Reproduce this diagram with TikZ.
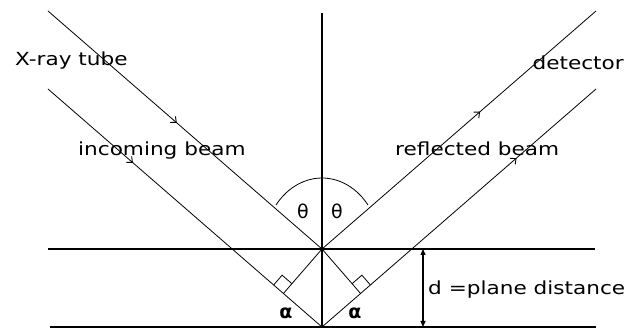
\documentclass[tikz,border=0pt]{standalone}
\usepackage{fontspec}
\newfontfamily\lab[FakeStretch=1.2]{DejaVu Sans}
\newfontfamily\symf{DejaVu Sans}
\usetikzlibrary{arrows.meta,decorations.markings,calc}
\begin{document}
\begin{tikzpicture}[x=1pt,y=1pt,
  beam/.style={line width=0.8pt},
  plane/.style={line width=1.6pt},
  beamarrow/.style={postaction={decorate},
    decoration={markings, mark=at position #1 with {\arrow{Straight Barb[length=4.5pt,width=8pt,line width=0.9pt]}}}},
  lbl/.style={font=\lab\fontsize{18}{20}\selectfont, inner sep=0pt, anchor=base west},
  thetalbl/.style={font=\symf\fontsize{19}{20}\selectfont, inner sep=0pt},
  alphalbl/.style={font=\symf\bfseries\fontsize{19}{20}\selectfont, inner sep=0pt},
  rmark/.style={line width=0.8pt}
]
\useasboundingbox (0,0) rectangle (627,329);
% key points
\coordinate (O1) at (322,80);
\coordinate (O2) at (322,2);
\coordinate (IU) at (48,318);
\coordinate (IL) at (48,240);
\coordinate (RU) at (596,318);
\coordinate (RL) at (596,240);
\coordinate (PL1) at (48,80);
\coordinate (PL2) at (595,80);
\coordinate (BL1) at (50,2);
\coordinate (BL2) at (596,2);
\coordinate (VT) at (322,316);
\coordinate (FL) at (283.4,35.5);
\coordinate (FR) at (360.6,35.5);
\coordinate (DT) at (423,80);
\coordinate (DB) at (423,2);
% planes and normal
\draw[plane] (PL1) -- (PL2);
\draw[plane] (BL1) -- (BL2);
\draw[line width=1.4pt] (VT) -- (O2);
% beams
\draw[beam, beamarrow=0.47] (IU) -- (O1);
\draw[beam, beamarrow=0.31] (IL) -- (O2);
\draw[beam, beamarrow=0.577] (O1) -- (RU);
\draw[beam, beamarrow=0.71] (O2) -- (RL);
% perpendiculars
\draw[beam] (O1) -- (FL);
\draw[beam] (O1) -- (FR);
\draw[rmark] (FL) ++(-9.81,8.52) -- ++(8.52,9.81) -- ++(9.81,-8.52);
\draw[rmark] (FR) ++(9.81,8.52) -- ++(-8.52,9.81) -- ++(-9.81,-8.52);
% angle arc
\draw[beam] (O1) ++(38.3:58.6 and 71) arc[start angle=38.3, end angle=141.7, x radius=58.6, y radius=71];
% distance arrow
\draw[line width=1.2pt, {Triangle[length=6pt,width=5pt]}-{Triangle[length=6pt,width=5pt]}] (DT) -- (DB);
% labels
\node[lbl] (xr) at (15,263) {X-ray tube};
\node[lbl] (inc) at (78,173) {incoming beam};
\node[lbl, anchor=base east] (det) at (624,259) {detector};
\node[lbl] (ref) at (395,173) {reflected beam};
\node[lbl] (dd) at (428,34) {d =plane distance};
\node[thetalbl] (t1) at (303,118) {θ};
\node[thetalbl] (t2) at (337,118) {θ};
\node[alphalbl] (a1) at (286,16) {α};
\node[alphalbl] (a2) at (355,16) {α};
\end{tikzpicture}
\end{document}
